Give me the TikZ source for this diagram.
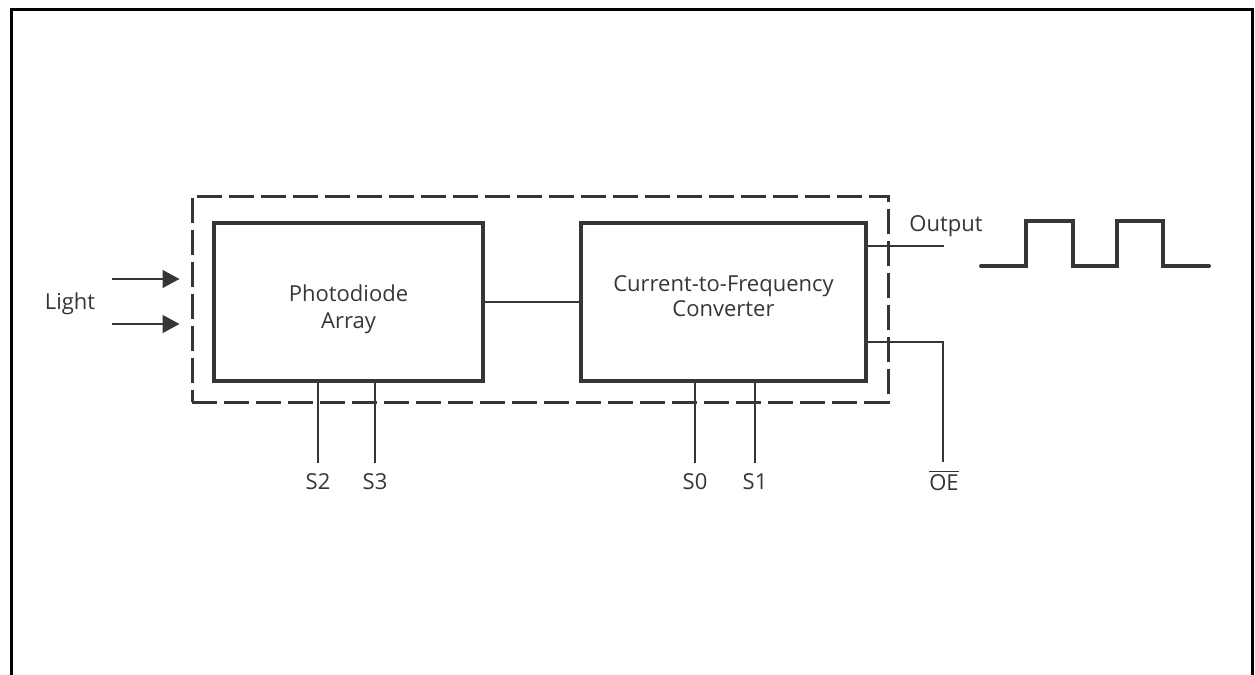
\documentclass[tikz,border=0pt]{standalone}
\usepackage{xcolor}
\usepackage{fontspec}
\setmainfont{Open Sans}
\usepackage{tikz}
\usetikzlibrary{shapes,arrows,arrows.meta}
\usetikzlibrary{positioning}
\definecolor{ink}{HTML}{363636}
\tikzstyle{block} = [rectangle, draw=ink, line width=2pt, minimum height=79pt]
\tikzstyle{blocktext} = [text=ink, align=center, inner sep=0pt]
\tikzstyle{chipbox} = [rectangle, draw=ink, line width=1.5pt,
    dash pattern=on 12.5pt off 3.5pt, minimum width=348pt, minimum height=103pt]
\tikzstyle{label} = [text=ink, inner sep=1pt, font=\fontsize{11}{13}\selectfont]
\tikzstyle{line} = [draw=ink, line width=0.7pt]
\tikzstyle{light} = [draw=ink, line width=0.7pt, -{Triangle[length=8.5pt,width=9pt]}, shorten >=5.5pt]

\begin{document}
\begin{tikzpicture}[x=0.5pt,y=-0.5pt,node distance=4cm,auto]
    \useasboundingbox (0,0) rectangle (1255,675);
    % frame
    \draw[black, line width=1.5pt] (11,675) -- (11,9) -- (1252,9) -- (1252,675);
    % Place nodes
    \node [chipbox] (chip) at (540,299) {};
    \node [block, minimum width=134.5pt] (pd) at (348.5,302) {};
    \node [block, minimum width=142.5pt] (cv) at (723.5,302) {};
    \node [blocktext, font=\fontsize{11}{13.5}\selectfont] (pdtxt) at ([yshift=-3.5pt]pd.center) {Photodiode\\Array};
    \node [blocktext, font=\fontsize{11}{12.5}\selectfont] (cvtxt) at ([yshift=3pt]cv.center) {Current-to-Frequency\\Converter};
    \node [label] (lt) at (70,304) {Light};
    \node [label] (out) at (946,226) {Output};
    \node [label, anchor=north] (s2) at (318,471) {S2};
    \node [label, anchor=north] (s3) at (375,471) {S3};
    \node [label, anchor=north] (s0) at (695,471) {S0};
    \node [label, anchor=north] (s1) at (755,471) {S1};
    \node [label, anchor=north] (oe) at (944,468) {$\overline{\hbox{OE}}$};
    \coordinate (l1) at (112,279);
    \coordinate (l2) at (112,324);
    \coordinate (outend) at (944,246);
    \coordinate (oecorner) at (943,342);
    % Draw edges
    \path [light] (l1) -- (l1 -| chip.west);
    \path [light] (l2) -- (l2 -| chip.west);
    \path [line] (pd.east) -- (cv.west);
    \path [line] (outend -| cv.east) -- (outend);
    \path [line] (oecorner -| cv.east) -- (oecorner) -- (oecorner |- 0,462);
    \foreach \p in {s2,s3,s0,s1}
        \path [line] ([yshift=4pt]\p.north) -- (\p |- pd.south);
    % output pulses
    \draw[ink, line width=2pt, line cap=round] (981,266) -- (1026,266) -- (1026,221)
        -- (1073,221) -- (1073,266) -- (1117,266) -- (1117,221) -- (1163,221)
        -- (1163,266) -- (1209,266);
\end{tikzpicture}
\end{document}
